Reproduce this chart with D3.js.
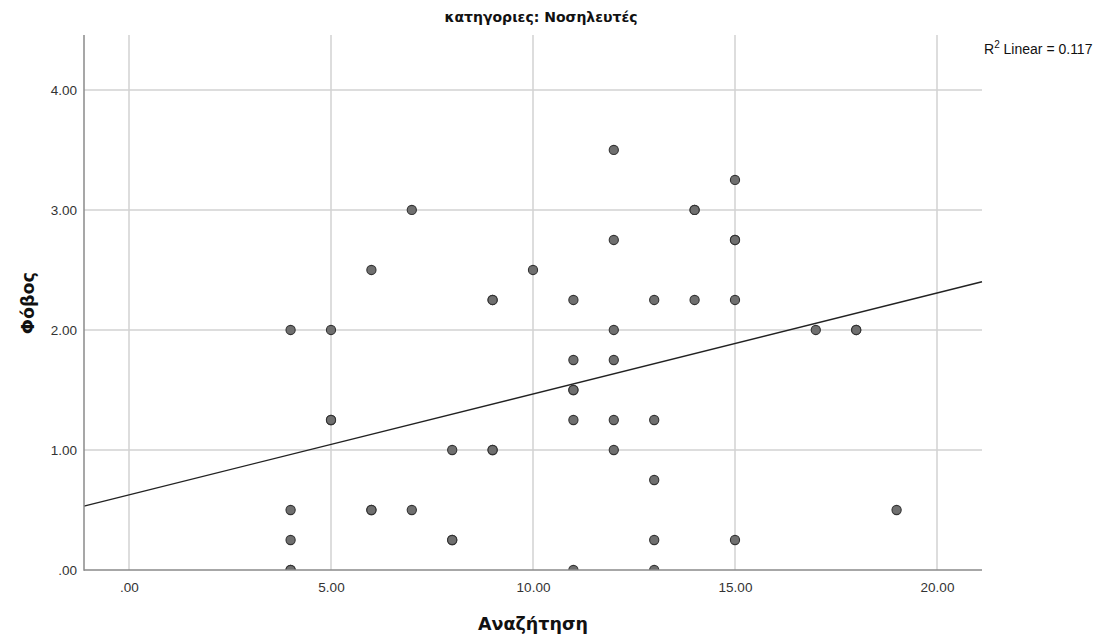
<!DOCTYPE html>
<html>
<head>
<meta charset="utf-8">
<script src="https://cdn.jsdelivr.net/npm/d3@7"></script>
<style>
  html, body { margin: 0; padding: 0; background: #fff; }
  svg { display: block; }
</style>
</head>
<body>
<svg id="chart" width="1100" height="639"></svg>
<script>
// Scatter of Φόβος against Αναζήτηση for the nurses group, with linear fit
const searchScores = [4, 4, 4, 4, 4, 5, 5, 5, 6, 6, 6, 7, 7, 8, 8, 8, 9, 9, 9, 9, 10,
  11, 11, 11, 11, 11, 11, 12, 12, 12, 12, 12, 12, 13, 13, 13, 13, 13,
  14, 14, 14, 15, 15, 15, 15, 15, 17, 18, 18, 19];
const fearScores = [2.0, 0.5, 0.25, 0, 0, 2.0, 1.25, 1.25, 2.5, 0.5, 0.5, 3.0, 0.5, 1.0, 0.25, 0.25, 2.25, 2.25, 1.0, 1.0, 2.5,
  2.25, 1.75, 1.5, 1.5, 1.25, 0, 3.5, 2.75, 2.0, 1.75, 1.25, 1.0, 2.25, 1.25, 0.75, 0.25, 0,
  3.0, 3.0, 2.25, 3.25, 2.75, 2.75, 2.25, 0.25, 2.0, 2.0, 2.0, 0.5];

const xTicks = [0, 5, 10, 15, 20];
const yTicks = [0, 1, 2, 3, 4];
const fitIntercept = 0.626;
const fitSlope = 0.0841;
const rSquared = 0.117;

const chartTitle = "κατηγοριες: Νοσηλευτές";
const xTitle = "Αναζήτηση";
const yTitle = "Φόβος";

const svg = d3.select("#chart");
const plotLeft = 84, plotRight = 982, plotTop = 35, plotBottom = 570;

const x = d3.scaleLinear().domain([-1.114, 21.114]).range([plotLeft, plotRight]);
const y = d3.scaleLinear().domain([0, 4.458]).range([plotBottom, plotTop]);

const labelFont = "'Liberation Sans', Arial, sans-serif";
const boldFont = "'DejaVu Sans', 'Noto Sans', sans-serif";

// plot clip
svg.append("defs").append("clipPath").attr("id", "plot-clip")
  .append("rect").attr("x", plotLeft).attr("y", plotTop)
  .attr("width", plotRight - plotLeft).attr("height", plotBottom - plotTop);

// grid lines
const grid = svg.append("g");
grid.selectAll("line.vg").data(xTicks).join("line")
  .attr("x1", d => x(d)).attr("x2", d => x(d))
  .attr("y1", plotTop).attr("y2", plotBottom)
  .attr("stroke", "#d2d2d2").attr("stroke-width", 1.5);
grid.selectAll("line.hg").data(yTicks.filter(d => d > 0)).join("line")
  .attr("x1", plotLeft).attr("x2", plotRight)
  .attr("y1", d => y(d)).attr("y2", d => y(d))
  .attr("stroke", "#d2d2d2").attr("stroke-width", 1.5);

// axes
const fmt = d => d === 0 ? ".00" : d3.format(".2f")(d);
const xAxis = svg.append("g").attr("transform", `translate(0,${plotBottom})`)
  .call(d3.axisBottom(x).tickValues(xTicks).tickSize(0).tickPadding(12).tickFormat(fmt));
const yAxis = svg.append("g").attr("transform", `translate(${plotLeft},0)`)
  .call(d3.axisLeft(y).tickValues(yTicks).tickSize(0).tickPadding(7).tickFormat(fmt));
[xAxis, yAxis].forEach(g => {
  g.select(".domain").remove();
  g.selectAll("text").attr("font-family", labelFont).attr("font-size", 13.5).attr("fill", "#333");
});

// data points
const points = searchScores.map((s, i) => ({ s, f: fearScores[i] }));
svg.append("g").attr("clip-path", "url(#plot-clip)")
  .selectAll("circle").data(points).join("circle")
  .attr("cx", d => x(d.s)).attr("cy", d => y(d.f)).attr("r", 4.6)
  .attr("fill", "#6f6f6f").attr("stroke", "#333").attr("stroke-width", 1.1);

// fit line
const xd = x.domain();
svg.append("line")
  .attr("x1", x(xd[0])).attr("y1", y(fitIntercept + fitSlope * xd[0]))
  .attr("x2", x(xd[1])).attr("y2", y(fitIntercept + fitSlope * xd[1]))
  .attr("stroke", "#222").attr("stroke-width", 1.4);

// axis lines
svg.append("line").attr("x1", plotLeft).attr("x2", plotLeft).attr("y1", plotTop).attr("y2", plotBottom + 0.75)
  .attr("stroke", "#8a8a8a").attr("stroke-width", 1.5);
svg.append("line").attr("x1", plotLeft).attr("x2", plotRight).attr("y1", plotBottom).attr("y2", plotBottom)
  .attr("stroke", "#8a8a8a").attr("stroke-width", 1.5);

// titles
svg.append("text").attr("x", 541).attr("y", 22)
  .attr("text-anchor", "middle").attr("font-family", boldFont)
  .attr("font-weight", "bold").attr("font-size", 14).attr("fill", "#111")
  .text(chartTitle);
svg.append("text").attr("x", x(10)).attr("y", 630)
  .attr("text-anchor", "middle").attr("font-family", boldFont)
  .attr("font-weight", "bold").attr("font-size", 17.5).attr("fill", "#111")
  .text(xTitle);
svg.append("text").attr("transform", `translate(34,303) rotate(-90)`)
  .attr("text-anchor", "middle").attr("font-family", boldFont)
  .attr("font-weight", "bold").attr("font-size", 17.5).attr("fill", "#111")
  .text(yTitle);

// R² annotation
const r2 = svg.append("text").attr("x", 984).attr("y", 54)
  .attr("font-family", labelFont).attr("font-size", 14).attr("fill", "#111");
r2.append("tspan").text("R");
r2.append("tspan").attr("dy", -6).attr("font-size", 10).text("2");
r2.append("tspan").attr("dy", 6).text(" Linear = " + d3.format(".3f")(rSquared));
</script>
</body>
</html>
